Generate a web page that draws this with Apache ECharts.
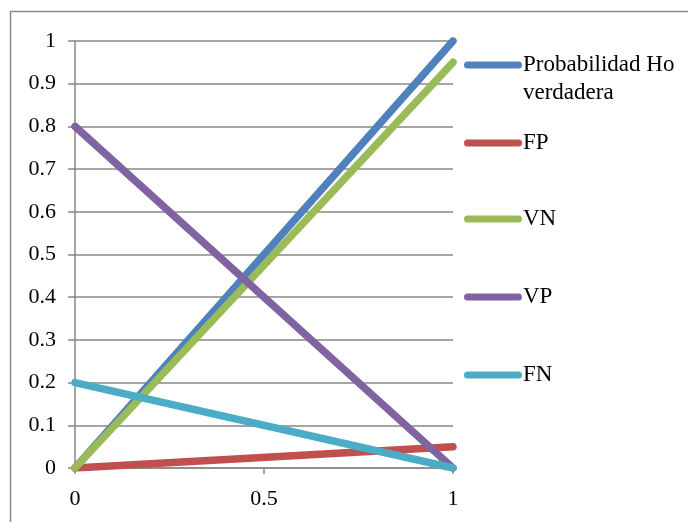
<!DOCTYPE html>
<html>
<head>
<meta charset="utf-8">
<script src="https://cdn.jsdelivr.net/npm/echarts@6/dist/echarts.min.js"></script>
<style>
  html, body { margin: 0; padding: 0; background: #fff; }
  #chart { width: 688px; height: 522px; }
</style>
</head>
<body>
<div id="chart"></div>
<script>
// Probability of a true null hypothesis on the x axis
const xValues = [0, 1];
const seriesNames = ['Probabilidad Ho verdadera', 'FP', 'VN', 'VP', 'FN'];
const probHo = [0, 1];
const fp = [0, 0.05];
const vn = [0, 0.95];
const vp = [0.8, 0];
const fn = [0.2, 0];
const xTicks = [0, 0.5, 1];
const yTicks = [0, 0.1, 0.2, 0.3, 0.4, 0.5, 0.6, 0.7, 0.8, 0.9, 1];

const colors = ['#4F81BD', '#C0504D', '#9BBB59', '#8064A2', '#4BACC6'];
const values = [probHo, fp, vn, vp, fn];
const font = '"Liberation Serif", "DejaVu Serif", serif';
const gridGrey = '#878787';

const series = seriesNames.map((name, i) => ({
  name: name,
  type: 'line',
  data: xValues.map((x, j) => [x, values[i][j]]),
  showSymbol: false,
  symbol: 'none',
  lineStyle: { width: 7.5, color: colors[i], cap: 'round' },
  itemStyle: { color: colors[i] },
  emphasis: { disabled: true },
  animation: false
}));

// Legend swatch: a round-capped bar in the upper 28px band; the zero-length
// subpaths fix the box so the bar sits level with the first text line.
function swatch(boxH) {
  return 'path://M0,0 L0,0 M0,' + boxH + ' L0,' + boxH +
    ' M3.6,10.4 L54.4,10.4 A3.6,3.6 0 0 1 54.4,17.6 L3.6,17.6 A3.6,3.6 0 0 1 3.6,10.4 Z';
}

const legendTops = [51, 129, 205, 283, 361];
const legends = seriesNames.map((name, i) => {
  const boxH = i === 0 ? 56 : 28;
  return {
    data: [name],
    left: 464,
    top: legendTops[i],
    padding: 0,
    itemWidth: 58,
    itemHeight: boxH,
    icon: swatch(boxH),
    formatter: n => n === 'Probabilidad Ho verdadera' ? 'Probabilidad Ho\nverdadera' : n,
    textStyle: {
      fontFamily: font,
      fontSize: 23,
      color: '#000',
      lineHeight: 28,
      padding: [0, 0, 0, -4]
    },
    selectedMode: false
  };
});

const chart = echarts.init(document.getElementById('chart'), null, { renderer: 'canvas' });
chart.setOption({
  backgroundColor: '#fff',
  animation: false,
  grid: { left: 75, right: 235, top: 41, bottom: 54, containLabel: false },
  xAxis: {
    type: 'value',
    min: xTicks[0],
    max: xTicks[xTicks.length - 1],
    interval: 0.5,
    axisLine: { show: true, lineStyle: { color: gridGrey, width: 1.5 } },
    axisTick: { show: true, length: 6, lineStyle: { color: gridGrey, width: 1.5 } },
    splitLine: { show: false },
    axisLabel: { fontFamily: font, fontSize: 22, color: '#000', margin: 20 }
  },
  yAxis: {
    type: 'value',
    min: yTicks[0],
    max: yTicks[yTicks.length - 1],
    interval: 0.1,
    axisLine: { show: true, onZero: false, lineStyle: { color: gridGrey, width: 1.5 } },
    axisTick: { show: true, length: 7, lineStyle: { color: gridGrey, width: 1.5 } },
    splitLine: { show: true, lineStyle: { color: gridGrey, width: 1.5 } },
    axisLabel: {
      fontFamily: font, fontSize: 22, color: '#000', margin: 19,
      formatter: v => String(Math.round(v * 10) / 10)
    }
  },
  legend: legends,
  graphic: [{
    type: 'rect',
    shape: { x: 10.5, y: 11.5, width: 700, height: 600 },
    style: { fill: null, stroke: '#8a8a8a', lineWidth: 1.5 },
    silent: true,
    z: -1
  }],
  series: series
});
</script>
</body>
</html>
